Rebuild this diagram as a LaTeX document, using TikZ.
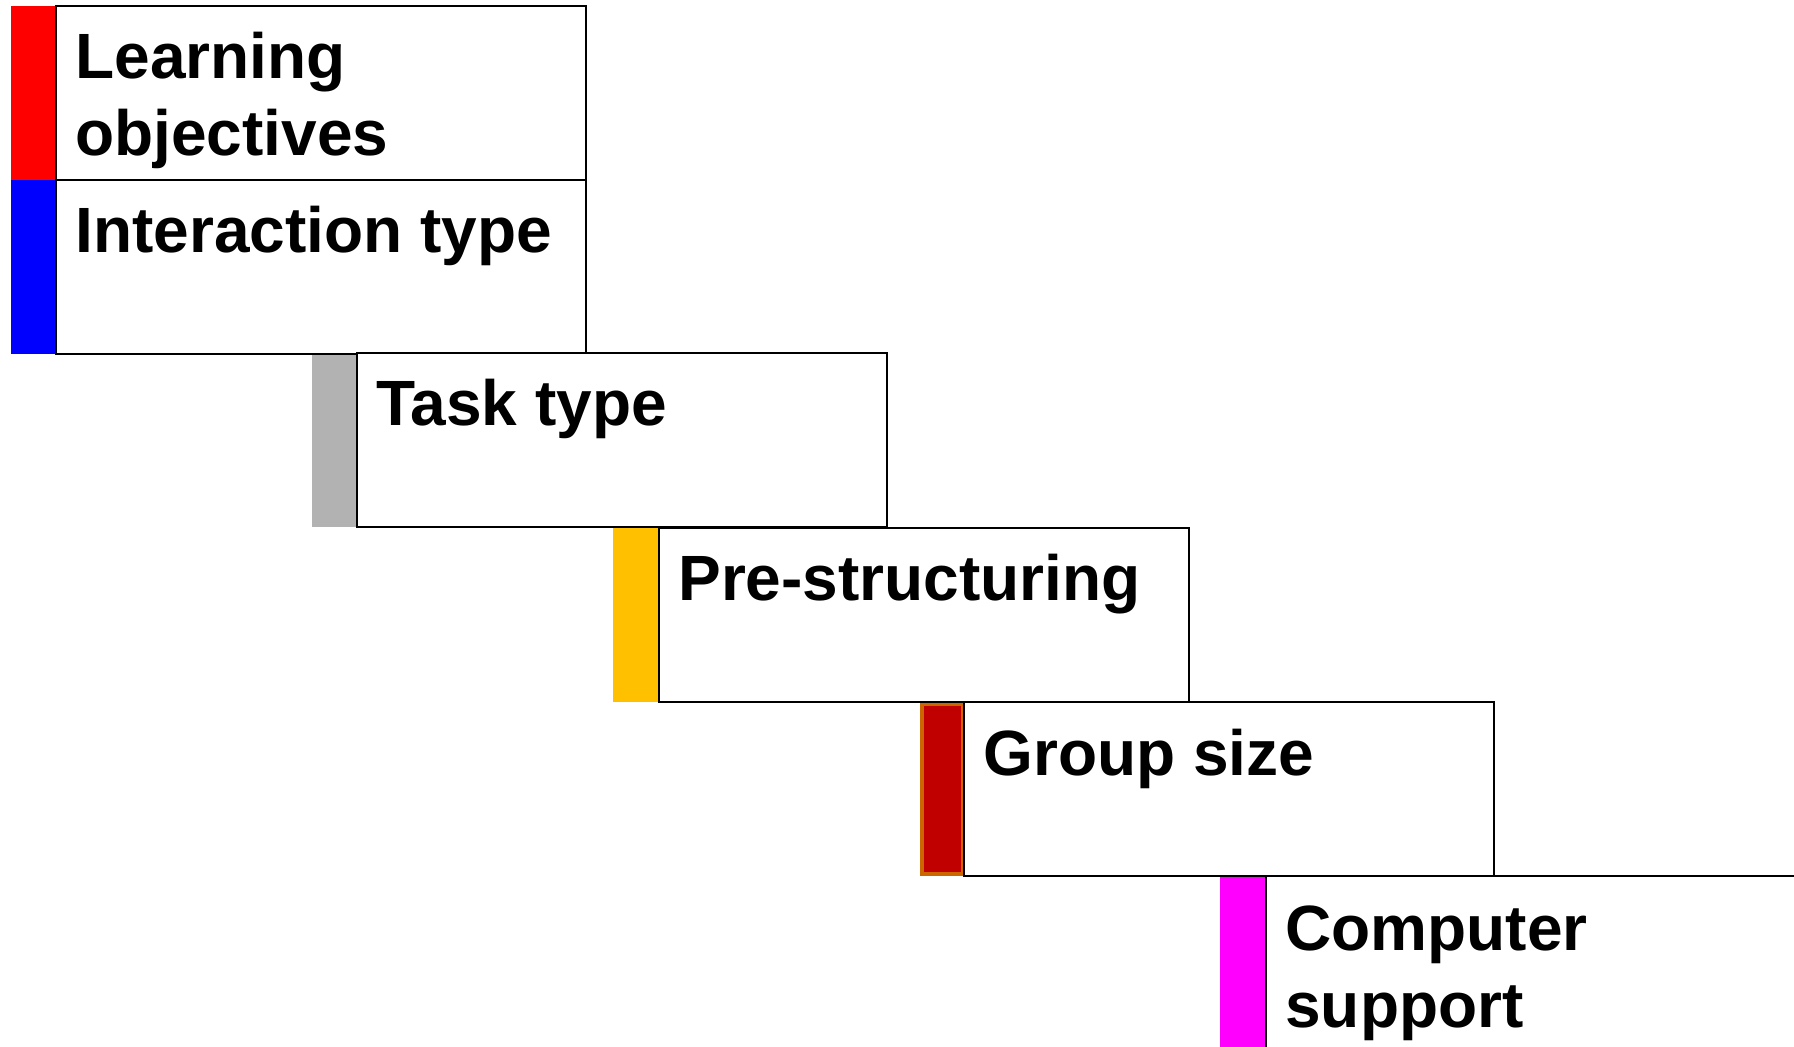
\documentclass[tikz,border=0pt]{standalone}
\usepackage{fontspec}
\setmainfont{Liberation Sans}
\definecolor{tabred}{HTML}{FF0000}
\definecolor{tabblue}{HTML}{0000FF}
\definecolor{tabgray}{HTML}{B2B2B2}
\definecolor{tabyellow}{HTML}{FFC000}
\definecolor{tabdarkred}{HTML}{C00000}
\definecolor{taborange}{HTML}{CC6600}
\definecolor{tabmagenta}{HTML}{FF00FF}
\begin{document}
\begin{tikzpicture}[x=0.5pt,y=-0.5pt,
  panel/.style={draw=black, line width=0.9pt, fill=white, minimum width=265pt,
    minimum height=87pt, inner sep=0pt, outer sep=0pt, anchor=north west},
  tab/.style={fill=#1, draw=none, minimum width=22.5pt, minimum height=87pt,
    inner sep=0pt, outer sep=0pt, anchor=north west},
  caption/.style={anchor=base west, inner sep=0pt,
    font=\fontsize{32}{38.5}\selectfont\bfseries, align=left}
]
\useasboundingbox (0,0) rectangle (1794,1047);
\clip (0,0) rectangle (1794,1047);

% coloured tabs on the left of each step
\node[tab=tabred]     (t1) at (11,6)    {};
\node[tab=tabblue]    (t2) at (11,180)  {};
\node[tab=tabgray]    (t3) at (312,353) {};
\node[tab=tabyellow]  (t4) at (613,528) {};
\node[tab=tabdarkred, draw=taborange, line width=2pt,
      minimum width=20.5pt, minimum height=85pt] (t5) at (922,704) {};
\node[tab=tabmagenta] (t6) at (1220,876) {};

% step panels
\node[panel] (p1) at (56,6)    {};
\node[panel] (p2) at (56,180)  {};
\node[panel] (p3) at (357,353) {};
\node[panel] (p4) at (659,528) {};
\node[panel] (p5) at (964,702) {};
\node[panel] (p6) at (1266,876) {};

% panel captions (base anchor sits on the last line of a two-line caption)
\node[caption] (c1) at ([shift={(19,150)}]p1.north west) {Learning\\objectives};
\node[caption] (c2) at ([shift={(19,73)}]p2.north west) {Interaction type};
\node[caption] (c3) at ([shift={(19,73)}]p3.north west) {Task type};
\node[caption] (c4) at ([shift={(19,73)}]p4.north west) {Pre-structuring};
\node[caption] (c5) at ([shift={(19,73)}]p5.north west) {Group size};
\node[caption] (c6) at ([shift={(19,151)}]p6.north west) {Computer\\support};
\end{tikzpicture}
\end{document}
